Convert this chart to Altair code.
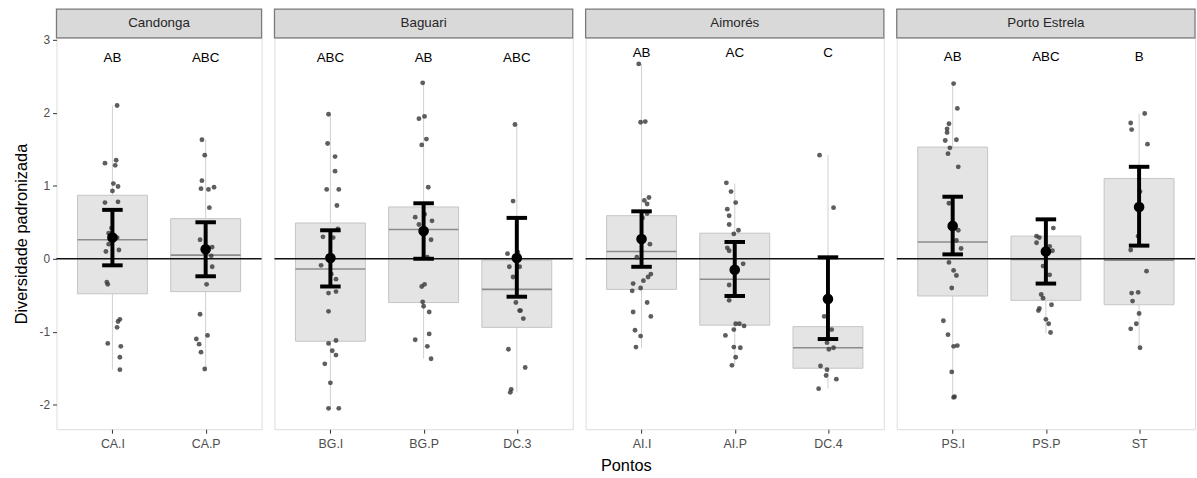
import altair as alt
import pandas as pd

# ---------------- data ----------------
panels = ["Candonga", "Baguari", "Aimorés", "Porto Estrela"]
panel_cats = [["CA.I", "CA.P"], ["BG.I", "BG.P", "DC.3"],
              ["AI.I", "AI.P", "DC.4"], ["PS.I", "PS.P", "ST"]]
panel_letters = [["AB", "ABC"], ["ABC", "AB", "ABC"], ["AB", "AC", "C"], ["AB", "ABC", "B"]]
letter_y = [2.75, 2.75, 2.82, 2.76]

categories = ["CA.I", "CA.P", "BG.I", "BG.P", "DC.3", "AI.I", "AI.P", "DC.4", "PS.I", "PS.P", "ST"]
q1 = [-0.48, -0.45, -1.13, -0.60, -0.94, -0.42, -0.91, -1.50, -0.51, -0.57, -0.63]
med = [0.26, 0.05, -0.14, 0.40, -0.42, 0.10, -0.28, -1.22, 0.23, -0.01, -0.02]
q3 = [0.87, 0.55, 0.49, 0.71, -0.02, 0.59, 0.35, -0.93, 1.53, 0.31, 1.10]
wlo = [-1.52, -1.52, -2.06, -1.37, -1.83, -1.22, -1.45, -1.78, -1.89, -1.02, -1.22]
whi = [2.10, 1.63, 1.98, 2.41, 1.84, 2.67, 1.03, 1.42, 2.40, 0.42, 1.99]
mean = [0.29, 0.13, 0.01, 0.38, 0.01, 0.27, -0.15, -0.55, 0.45, 0.10, 0.71]
err_lo = [-0.09, -0.24, -0.38, 0.00, -0.52, -0.11, -0.51, -1.10, 0.06, -0.34, 0.18]
err_hi = [0.67, 0.50, 0.39, 0.76, 0.56, 0.65, 0.23, 0.02, 0.85, 0.54, 1.26]

ca_i_vals = [2.10, 1.31, 1.35, 1.28, 1.03, 0.99, 0.93, 0.77, 0.78, 0.42, 0.35, 0.29, 0.20, 0.12, 0.10,
             -0.32, -0.35, -0.83, -0.86, -0.94, -1.16, -1.20, -1.35, -1.52]
ca_i_jit = [0.05, -0.08, 0.04, 0.03, 0.01, 0.06, 0.0, -0.08, 0.06, -0.01, -0.04, 0.05, -0.04, 0.07, -0.07,
            -0.06, -0.05, 0.08, 0.06, 0.05, -0.05, 0.09, 0.08, 0.08]
ca_p_vals = [1.63, 1.42, 1.07, 0.96, 0.95, 0.98, 0.70, 0.26, 0.16, 0.04, -0.11, -0.35, -0.76, -1.05,
             -1.10, -1.17, -1.28, -1.51]
ca_p_jit = [-0.04, -0.01, -0.04, -0.05, 0.03, 0.09, 0.04, -0.06, 0.07, 0.06, 0.07, 0.01, -0.06, 0.02,
            -0.10, -0.07, -0.05, -0.01]
bg_i_vals = [1.98, 1.58, 1.40, 1.20, 0.95, 0.95, 0.73, 0.41, 0.30, 0.29, -0.09, -0.21, -0.28, -0.47,
             -0.45, -0.72, -1.16, -1.12, -1.26, -1.32, -1.44, -1.70, -2.05, -2.05]
bg_i_jit = [-0.02, -0.03, 0.05, 0.05, -0.04, 0.09, 0.07, 0.08, -0.08, 0.03, -0.10, 0.01, 0.06, -0.02,
            0.06, -0.02, -0.02, 0.06, 0.02, 0.06, -0.06, 0.0, -0.02, 0.09]
bg_p_vals = [2.41, 1.92, 1.95, 1.64, 1.56, 0.98, 0.57, 0.61, 0.52, 0.47, 0.26, 0.02, -0.35, -0.38,
             -0.59, -0.65, -0.73, -1.03, -1.11, -1.20, -1.37]
bg_p_jit = [-0.01, -0.05, 0.01, 0.03, -0.02, 0.05, -0.09, 0.01, 0.09, -0.05, 0.08, 0.04, 0.01, -0.02,
            -0.01, 0.0, 0.06, 0.06, -0.09, 0.04, 0.08]
dc_3_vals = [1.84, 0.79, 0.07, 0.09, -0.11, -0.11, -0.25, -0.60, -0.71, -0.71, -0.82, -1.24, -1.49,
             -1.79, -1.83]
dc_3_jit = [-0.02, -0.04, -0.10, 0.01, -0.08, 0.03, -0.04, -0.01, 0.03, 0.04, 0.07, -0.09, 0.09,
            -0.06, -0.07]
ai_i_vals = [2.67, 1.87, 1.88, 0.80, 0.84, 0.75, 0.56, 0.62, 0.20, 0.02, -0.21, -0.25, -0.30, -0.34,
             -0.40, -0.44, -0.60, -0.73, -0.79, -0.98, -1.06, -1.21]
ai_i_jit = [-0.03, -0.01, 0.04, 0.03, 0.08, 0.06, 0.01, 0.06, 0.09, -0.05, 0.10, 0.07, 0.02, -0.09,
            -0.01, -0.10, 0.06, -0.09, 0.10, -0.07, -0.01, -0.06]
ai_p_vals = [1.04, 0.92, 0.77, 0.68, 0.59, 0.47, 0.39, 0.34, 0.15, 0.11, -0.07, -0.36, -0.57, -0.89,
             -0.89, -0.92, -0.97, -1.05, -1.21, -1.22, -1.35, -1.46]
ai_p_jit = [-0.09, -0.04, 0.01, -0.08, -0.06, -0.06, 0.04, -0.01, -0.08, -0.06, 0.09, -0.06, -0.06,
            0.01, 0.05, 0.10, -0.01, -0.10, -0.01, 0.06, 0.01, -0.03]
dc_4_vals = [1.42, 0.70, -0.79, -0.97, -1.15, -1.22, -1.24, -1.47, -1.52, -1.60, -1.65, -1.78]
dc_4_jit = [-0.09, 0.06, -0.04, 0.04, -0.01, 0.06, 0.01, -0.08, -0.01, -0.02, 0.09, -0.10]
ps_i_vals = [2.40, 2.06, 1.85, 1.78, 1.73, 1.62, 1.63, 1.52, 1.44, 1.26, 0.76, 0.39, 0.25, 0.14,
             -0.05, -0.16, -0.23, -0.40, -0.85, -1.04, -1.20, -1.19, -1.55, -1.90, -1.89]
ps_i_jit = [0.01, 0.05, -0.04, -0.06, -0.06, -0.08, 0.04, -0.03, -0.05, 0.06, -0.04, 0.06, 0.04, 0.09,
            -0.04, 0.01, 0.04, -0.01, -0.10, -0.05, 0.01, 0.05, -0.01, 0.01, 0.02]
ps_p_vals = [0.42, 0.31, 0.29, 0.22, 0.17, 0.11, -0.10, -0.22, -0.49, -0.54, -0.63, -0.68, -0.71,
             -0.83, -0.89, -1.01]
ps_p_jit = [0.08, -0.10, -0.07, -0.10, 0.04, 0.07, -0.03, 0.04, -0.05, -0.03, 0.06, -0.07, -0.08,
            0.0, 0.03, 0.05]
st_vals = [1.99, 1.86, 1.77, 1.57, 0.92, 0.31, 0.12, -0.17, -0.47, -0.46, -0.58, -0.75, -0.89,
           -0.96, -1.22]
st_jit = [0.06, -0.09, -0.08, 0.09, 0.01, -0.01, -0.09, 0.08, -0.08, -0.01, -0.07, 0.0, -0.03,
          -0.09, 0.01]

point_vals = {"CA.I": ca_i_vals, "CA.P": ca_p_vals, "BG.I": bg_i_vals, "BG.P": bg_p_vals,
              "DC.3": dc_3_vals, "AI.I": ai_i_vals, "AI.P": ai_p_vals, "DC.4": dc_4_vals,
              "PS.I": ps_i_vals, "PS.P": ps_p_vals, "ST": st_vals}
point_jit = {"CA.I": ca_i_jit, "CA.P": ca_p_jit, "BG.I": bg_i_jit, "BG.P": bg_p_jit,
             "DC.3": dc_3_jit, "AI.I": ai_i_jit, "AI.P": ai_p_jit, "DC.4": dc_4_jit,
             "PS.I": ps_i_jit, "PS.P": ps_p_jit, "ST": st_jit}

# ---------------- layout / style ----------------
PANEL_H = 395
PX_PER_CAT = 94
STRIP_H = 29
Y_DOMAIN = [-2.336, 3.027]
FONT = "Liberation Sans"
BOX_HALF = 0.375
CAP_HALF = 0.11

y_scale = alt.Scale(domain=Y_DOMAIN, nice=False, zero=False)


def make_panel(p_i):
    cats = panel_cats[p_i]
    n = len(cats)
    width = round((n + 0.2) * PX_PER_CAT)
    x_scale = alt.Scale(domain=[-0.6, n - 0.4], nice=False, zero=False)
    label_expr = "[" + ",".join("'" + c + "'" for c in cats) + "][datum.value]"
    x_axis = alt.Axis(values=list(range(n)), labelExpr=label_expr, title=None, grid=False,
                      domain=False, ticks=True, tickSize=4, tickColor="#333333", tickWidth=1,
                      labelColor="#4d4d4d", labelFontSize=12.5, labelPadding=4, labelFont=FONT)
    if p_i == 0:
        y_axis = alt.Axis(values=[-2, -1, 0, 1, 2, 3], labelExpr="'' + datum.value",
                          title="Diversidade padronizada", grid=False,
                          domain=False, tickSize=4, tickColor="#333333", labelColor="#4d4d4d",
                          labelFontSize=12, labelPadding=3, titleFontSize=16.5,
                          titleFontWeight="normal", titleColor="#000000", titlePadding=10,
                          titleFont=FONT, labelFont=FONT)
    else:
        y_axis = None

    rows = []
    for j, c in enumerate(cats):
        k = categories.index(c)
        rows.append(dict(cat=c, idx=j, bx0=j - BOX_HALF, bx1=j + BOX_HALF,
                         c0=j - CAP_HALF, c1=j + CAP_HALF,
                         q1=q1[k], med=med[k], q3=q3[k], lo=wlo[k], hi=whi[k],
                         mean=mean[k], elo=err_lo[k], ehi=err_hi[k],
                         letter=panel_letters[p_i][j], ly=letter_y[p_i]))
    sdf = pd.DataFrame(rows)
    prow = []
    for j, c in enumerate(cats):
        for v, jt in zip(point_vals[c], point_jit[c]):
            prow.append(dict(cat=c, xj=j + jt, v=v))
    pdf = pd.DataFrame(prow)

    def X(f):
        return alt.X(f, type="quantitative", scale=x_scale, axis=x_axis)

    def Y(f):
        return alt.Y(f, type="quantitative", scale=y_scale, axis=y_axis)

    base = alt.Chart(sdf)
    whisk_hi = base.mark_rule(color="#cfcfcf", strokeWidth=1).encode(x=X("idx"), y=Y("q3"), y2="hi")
    whisk_lo = base.mark_rule(color="#cfcfcf", strokeWidth=1).encode(x=X("idx"), y=Y("lo"), y2="q1")
    box = base.mark_rect(fill="#e4e4e4", stroke="#c4c4c4", strokeWidth=1).encode(
        x=X("bx0"), x2="bx1", y=Y("q1"), y2="q3")
    median = base.mark_rule(color="#8c8c8c", strokeWidth=1.6).encode(x=X("bx0"), x2="bx1", y=Y("med"))
    zero = alt.Chart(pd.DataFrame({"z": [0.0]})).mark_rule(color="#111111", strokeWidth=1.6).encode(
        y=Y("z"))
    pts = alt.Chart(pdf).mark_circle(size=24, color="#3a3a3a", opacity=0.82).encode(
        x=X("xj"), y=Y("v"))
    err = base.mark_rule(color="#000000", strokeWidth=4).encode(x=X("idx"), y=Y("elo"), y2="ehi")
    cap_hi = base.mark_rule(color="#000000", strokeWidth=4).encode(x=X("c0"), x2="c1", y=Y("ehi"))
    cap_lo = base.mark_rule(color="#000000", strokeWidth=4).encode(x=X("c0"), x2="c1", y=Y("elo"))
    mpt = base.mark_circle(size=115, color="#000000", opacity=1).encode(x=X("idx"), y=Y("mean"))
    txt = base.mark_text(fontSize=13.5, font=FONT, color="#000000", baseline="middle").encode(
        x=X("idx"), y=Y("ly"), text="letter:N")

    sdata = pd.DataFrame({"panel": [panels[p_i]]})
    strip = alt.Chart(sdata).mark_rect(fill="#d9d9d9", stroke="#7a7a7a", strokeWidth=1.3).encode(
        x=alt.value(0), x2=alt.value(width), y=alt.value(-STRIP_H), y2=alt.value(0))
    strip_txt = alt.Chart(sdata).mark_text(fontSize=13.5, font=FONT, color="#262626",
                                           baseline="middle").encode(
        x=alt.value(width / 2), y=alt.value(-STRIP_H / 2), text="panel:N")

    return alt.layer(whisk_hi, whisk_lo, box, median, zero, pts, err, cap_hi, cap_lo, mpt, txt,
                     strip, strip_txt).properties(width=width, height=PANEL_H)


chart = alt.hconcat(*[make_panel(i) for i in range(len(panels))], spacing=9).properties(
    title=alt.TitleParams("Pontos", orient="bottom", anchor="middle", fontSize=16.5,
                          fontWeight="normal", color="#000000", font=FONT, offset=8, dx=22),
    padding={"left": 12, "top": 5, "right": 0, "bottom": 0},
).configure_view(stroke="#7a7a7a", strokeWidth=1.4).configure(font=FONT)

chart.save("out.html", embed_options={"renderer": "svg", "actions": False})
